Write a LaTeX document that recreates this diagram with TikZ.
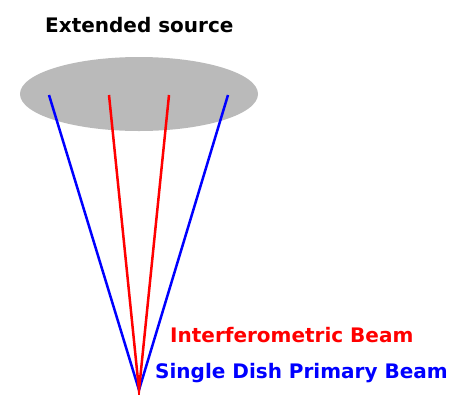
\documentclass[tikz,border=0pt]{standalone}
\usepackage{fontspec}
\setmainfont{DejaVu Sans}
\usetikzlibrary{calc}

\begin{document}
\begin{tikzpicture}[x=1pt,y=-1pt,font=\fontsize{20}{24}\selectfont\bfseries]

\useasboundingbox (0,0) rectangle (457,394);

% source
\fill[black!27] (139,94) ellipse [x radius=119,y radius=37];

\node[anchor=base west,inner sep=0pt] (src) at (45,32) {Extended source};

% beam edges on the source and the dish
\coordinate (apex) at (139,390);

\coordinate (b1) at (49,95);
\coordinate (r1) at (109,95);
\coordinate (r2) at (169,95);
\coordinate (b2) at (228,95);

% single dish beam
\draw[blue,line width=2.5pt] (b1) -- (apex) -- (b2);

% interferometric beam
\draw[red,line width=2.5pt] (r1) -- (apex) -- (r2);

% labels
\node[anchor=base west,inner sep=0pt,red] (ilab) at (170,342) {Interferometric Beam};

\node[anchor=base west,inner sep=0pt,blue] (slab) at (155,378) {Single Dish Primary Beam};

\end{tikzpicture}
\end{document}
